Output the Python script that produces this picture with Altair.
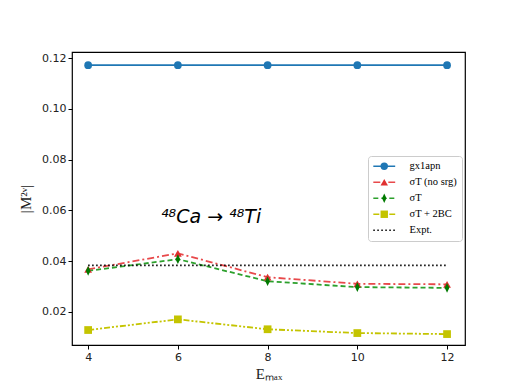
import altair as alt
import pandas as pd

emax = [4, 6, 8, 10, 12]
series_names = ["gx1apn", "σT (no srg)", "σT", "σT + 2BC", "Expt."]
gx1apn = [0.1172, 0.1172, 0.1172, 0.1172, 0.1172]
st_nosrg = [0.0368, 0.0431, 0.0337, 0.0311, 0.0309]
st = [0.0362, 0.0408, 0.0321, 0.0298, 0.0295]
st_2bc = [0.0129, 0.0171, 0.0132, 0.0117, 0.0113]
expt = [0.0384, 0.0384, 0.0384, 0.0384, 0.0384]

line_colors = ["#1f77b4", "#e8494b", "#2ca02c", "#c4c400", "#000000"]
marker_colors = ["#1f77b4", "#e03030", "#007a00", "#c4c400", "#000000"]
dashes = [[1, 0], [7, 3, 2, 3], [5, 3], [6, 2, 2, 2, 2, 2], [1.5, 2.5]]
shapes = ["circle", "triangle-up", "M-0.6,0L0,-1.25L0.6,0L0,1.25Z", "square", "M0,0"]

rows = []
for name, vals in zip(series_names, [gx1apn, st_nosrg, st, st_2bc, expt]):
    for x, v in zip(emax, vals):
        rows.append({"Emax": x, "M": v, "series": name})
df = pd.DataFrame(rows)

xs = alt.Scale(domain=[3.64, 12.4], nice=False, zero=False)
ys = alt.Scale(domain=[0.007, 0.1224], nice=False, zero=False)

x_enc = alt.X("Emax:Q", scale=xs,
              axis=alt.Axis(values=[4, 6, 8, 10, 12], title="Eₘₐₓ", format="d"))
y_enc = alt.Y("M:Q", scale=ys,
              axis=alt.Axis(values=[0.02, 0.04, 0.06, 0.08, 0.10, 0.12],
                            format=".2f", title="|M²ᵛ|"))

common = dict(title=None, orient="none", legendX=296, legendY=104,
              labelFont="Liberation Serif", labelFontSize=10.5,
              padding=5, rowPadding=5, symbolSize=55, symbolOffset=6, labelOffset=20)

line_legend = alt.Legend(symbolType="M-2.95,0H2.95", symbolStrokeWidth=1.6,
                         fillColor="white", strokeColor="#cccccc", cornerRadius=3,
                         **common)
marker_legend = alt.Legend(symbolStrokeWidth=0, labelOpacity=0, **common)

color = alt.Color("series:N", scale=alt.Scale(domain=series_names, range=line_colors), legend=line_legend)
dash = alt.StrokeDash("series:N", scale=alt.Scale(domain=series_names, range=dashes), legend=line_legend)

lines = alt.Chart(df).mark_line(strokeWidth=1.8).encode(
    x=x_enc, y=y_enc, color=color, strokeDash=dash, detail="series:N"
)

pts = alt.Chart(df[df.series != "Expt."]).mark_point(filled=True, size=60, opacity=1, strokeWidth=0).encode(
    x="Emax:Q", y="M:Q",
    shape=alt.Shape("series:N", scale=alt.Scale(domain=series_names, range=shapes), legend=marker_legend),
    fill=alt.Fill("series:N", scale=alt.Scale(domain=series_names, range=marker_colors), legend=marker_legend),
)

ann_df = pd.DataFrame({"Emax": [6.74], "M": [0.0576], "t": ["⁴⁸Ca → ⁴⁸Ti"]})
ann = alt.Chart(ann_df).mark_text(font="DejaVu Sans", fontStyle="italic", fontSize=19,
                                  color="black").encode(x="Emax:Q", y="M:Q", text="t:N")

chart = alt.layer(lines, pts, ann).resolve_scale(fill="independent", shape="independent").properties(
    width=393, height=293,
    padding={"left": 10, "top": 44, "right": 10, "bottom": 5},
).configure_view(stroke="black", strokeWidth=1.2).configure_axis(
    grid=False, domain=False, tickColor="black", tickSize=4,
    labelFont="DejaVu Sans", labelFontSize=11, labelColor="#222",
    titleFont="Liberation Serif", titleFontSize=15, titleFontWeight="normal",
    titleColor="#222",
).configure_axisY(titlePadding=8)

chart.save("out.html", embed_options={"renderer": "svg", "actions": False})
